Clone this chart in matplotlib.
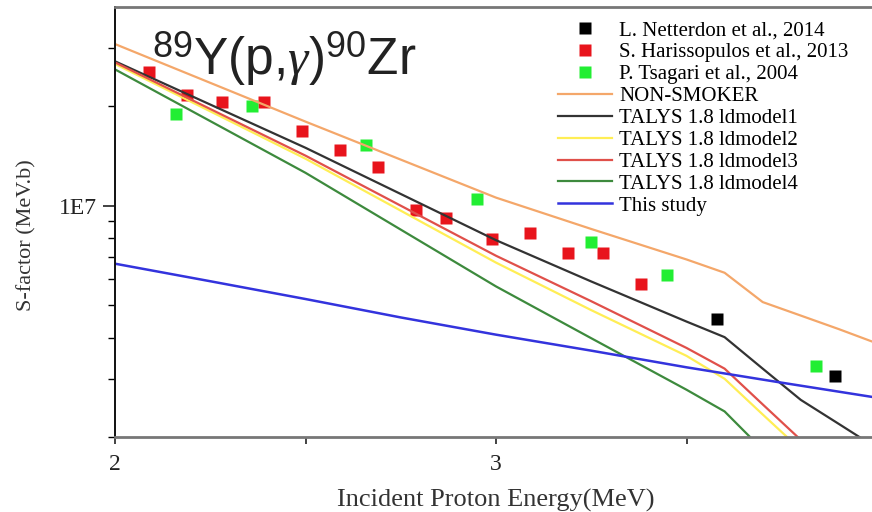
import matplotlib
matplotlib.use("Agg")
import matplotlib.pyplot as plt
from matplotlib.ticker import FixedLocator, NullFormatter, FixedFormatter

plt.rcParams["font.family"] = "Liberation Serif"
plt.rcParams["mathtext.fontset"] = "custom"
plt.rcParams["mathtext.rm"] = "Liberation Sans"
plt.rcParams["mathtext.it"] = "Liberation Serif:italic"

# experimental points (MeV, MeV.b)
netterdon_e = [3.58, 3.89]
netterdon_s = [4.55e6, 3.05e6]

harisso_e = [2.09, 2.19, 2.28, 2.39, 2.49, 2.59, 2.69, 2.79, 2.87, 2.99, 3.09, 3.19, 3.28, 3.38]
harisso_s = [2.54e7, 2.16e7, 2.06e7, 2.06e7, 1.69e7, 1.48e7, 1.31e7, 9.71e6, 9.18e6,
             7.97e6, 8.26e6, 7.23e6, 7.23e6, 5.81e6]

tsagari_e = [2.16, 2.36, 2.66, 2.95, 3.25, 3.45, 3.84]
tsagari_s = [1.90e7, 2.00e7, 1.53e7, 1.05e7, 7.80e6, 6.19e6, 3.29e6]

# model curves
e_full = [2.0, 2.5, 3.0, 3.25, 3.5, 3.6, 3.7, 3.8, 3.9, 4.0]
nonsmoker = [3.09e7, 1.80e7, 1.06e7, 8.52e6, 6.89e6, 6.28e6, 5.12e6, 4.66e6, 4.24e6, 3.84e6]
ld1 = [2.74e7, 1.50e7, 7.88e6, 5.91e6, 4.47e6, 4.01e6, 3.22e6, 2.59e6, 2.19e6, 1.85e6]

e_ld23 = [2.0, 2.5, 3.0, 3.25, 3.5, 3.6, 3.7, 3.8]
ld2 = [2.69e7, 1.39e7, 6.74e6, 4.84e6, 3.52e6, 3.00e6, 2.34e6, 1.83e6]
ld3 = [2.72e7, 1.42e7, 7.07e6, 5.15e6, 3.72e6, 3.22e6, 2.51e6, 1.96e6]

e_ld4 = [2.0, 2.5, 3.0, 3.25, 3.5, 3.6, 3.7]
ld4 = [2.59e7, 1.26e7, 5.71e6, 3.98e6, 2.78e6, 2.39e6, 1.83e6]

e_study = [2.0, 2.25, 2.5, 2.75, 3.0, 3.25, 3.5, 3.75, 4.0]
this_study = [6.69e6, 5.92e6, 5.23e6, 4.60e6, 4.08e6, 3.65e6, 3.25e6, 2.92e6, 2.63e6]

fig = plt.figure(figsize=(8.72, 5.12), dpi=100)
ax = fig.add_axes([115 / 872, 75 / 512, 762 / 872, 430 / 512])

ms = 8
ax.plot(netterdon_e, netterdon_s, "s", color="black", ms=ms, mec="none", label="L. Netterdon et al., 2014")
ax.plot(harisso_e, harisso_s, "s", color="#e8141c", ms=ms, mec="none", label="S. Harissopulos et al., 2013")
ax.plot(tsagari_e, tsagari_s, "s", color="#22ee33", ms=ms, mec="none", label="P. Tsagari et al., 2004")
ax.plot(e_full, nonsmoker, color="#f4a76a", lw=1.6, label="NON-SMOKER")
ax.plot(e_full, ld1, color="#333333", lw=1.6, label="TALYS 1.8 ldmodel1")
ax.plot(e_ld23, ld2, color="#ffee55", lw=1.6, label="TALYS 1.8 ldmodel2")
ax.plot(e_ld23, ld3, color="#e0504a", lw=1.6, label="TALYS 1.8 ldmodel3")
ax.plot(e_ld4, ld4, color="#3d8a3d", lw=1.6, label="TALYS 1.8 ldmodel4")
ax.plot(e_study, this_study, color="#3333dd", lw=1.8, label="This study")

ax.set_yscale("log")
ax.set_xlim(2, 4)
ax.set_ylim(2e6, 4e7)

ax.xaxis.set_major_locator(FixedLocator([2, 3, 4]))
ax.xaxis.set_minor_locator(FixedLocator([2.5, 3.5]))
ax.set_xticklabels(["2", "3", "4"])
ax.yaxis.set_major_locator(FixedLocator([1e7]))
ax.yaxis.set_major_formatter(FixedFormatter(["1E7"]))
ax.yaxis.set_minor_locator(FixedLocator([2e6, 3e6, 4e6, 5e6, 6e6, 7e6, 8e6, 9e6, 2e7, 3e7]))
ax.yaxis.set_minor_formatter(NullFormatter())

ax.tick_params(axis="x", which="both", direction="out", length=5, width=1.2, labelsize=17, pad=7, colors="#222222")
ax.tick_params(axis="y", which="major", direction="out", length=9, width=1.2, labelsize=17, pad=4, colors="#222222")
ax.tick_params(axis="y", which="minor", direction="out", length=5, width=1.0)

for side in ["top", "bottom"]:
    ax.spines[side].set_color("#777777")
    ax.spines[side].set_linewidth(2)
ax.spines["left"].set_color("#111111")
ax.spines["left"].set_linewidth(1.4)
ax.spines["right"].set_visible(False)

ax.set_xlabel("Incident Proton Energy(MeV)", fontsize=19, color="#333333", labelpad=10)
ax.set_ylabel("S-factor (MeV.b)", fontsize=16, color="#333333")
ax.yaxis.set_label_coords(-0.103, 0.47)

ax.text(0.049, 0.842, r"$^{89}$Y(p,$\gamma$)$^{90}$Zr", transform=ax.transAxes,
        fontsize=37, family="Liberation Sans", ha="left", va="baseline", color="#222222")

ax.legend(loc="upper left", bbox_to_anchor=(558 / 872, 1 - 21 / 512), bbox_transform=fig.transFigure,
          frameon=False, fontsize=15, labelspacing=0.11, handlelength=2.6, handletextpad=0.35,
          borderpad=0, borderaxespad=0, numpoints=1)

fig.savefig("out.png", dpi=100)
